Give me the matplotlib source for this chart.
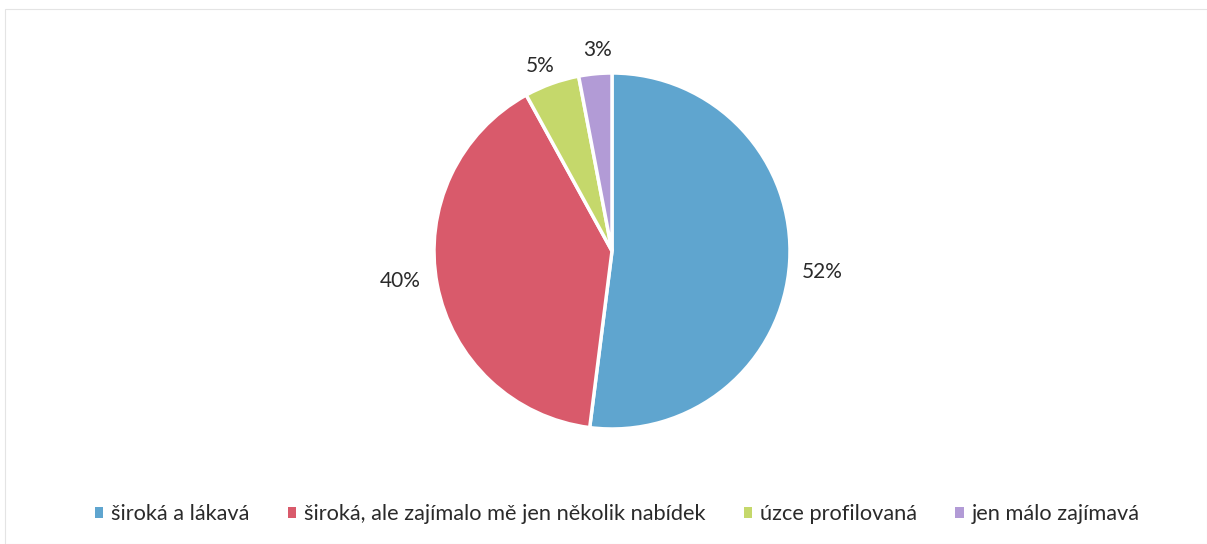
import matplotlib
matplotlib.use("Agg")
import matplotlib.pyplot as plt
from matplotlib.patches import Patch, Rectangle

categories = ["široká a lákavá", "široká, ale zajímalo mě jen několik nabídek",
              "úzce profilovaná", "jen málo zajímavá"]
values = [52, 40, 5, 3]
labels = ["52%", "40%", "5%", "3%"]
colors = ["#5fa5cf", "#d95a6b", "#c5d86b", "#b29bd6"]

plt.rcParams['font.family'] = ['Lato', 'DejaVu Sans']

W, H = 1207, 544
fig = plt.figure(figsize=(W / 100, H / 100), dpi=100)
fig.patch.set_facecolor("white")

# faint frame
fig.add_artist(Rectangle((5 / W, 0), 1 - 5 / W, 1 - 9 / H, transform=fig.transFigure,
                         fill=False, edgecolor="#e4e4e4", linewidth=0.8))

cx, cy, r = 612, 251, 178
ax = fig.add_axes([(cx - r) / W, 1 - (cy + r) / H, 2 * r / W, 2 * r / H])
wedges, texts = ax.pie(values, colors=colors, startangle=90, counterclock=False,
                       labels=labels, labeldistance=1.19,
                       wedgeprops=dict(edgecolor="white", linewidth=2.5),
                       textprops=dict(fontsize=15, color="#2a2a2a"))
# label placement (Excel "best fit" style)
label_pos = [(1.18, -0.118), (-1.19, -0.169), (-0.404, 1.039), (-0.084, 1.129)]
for t, p in zip(texts, label_pos):
    t.set_position(p)
    t.set_ha("center")
    t.set_va("center")
ax.set_xlim(-1, 1)
ax.set_ylim(-1, 1)
ax.set_aspect("equal")
ax.axis("off")

handles = [Patch(facecolor=c, edgecolor="none") for c in colors]
fig.legend(handles, categories, loc="center", ncol=4,
           bbox_to_anchor=(617 / W, 1 - 514 / H), frameon=False,
           fontsize=15.7, handlelength=0.4, handleheight=0.4,
           handletextpad=0.35, columnspacing=1.75, labelcolor="#2a2a2a")

fig.savefig("out.png", dpi=100, facecolor="white")
